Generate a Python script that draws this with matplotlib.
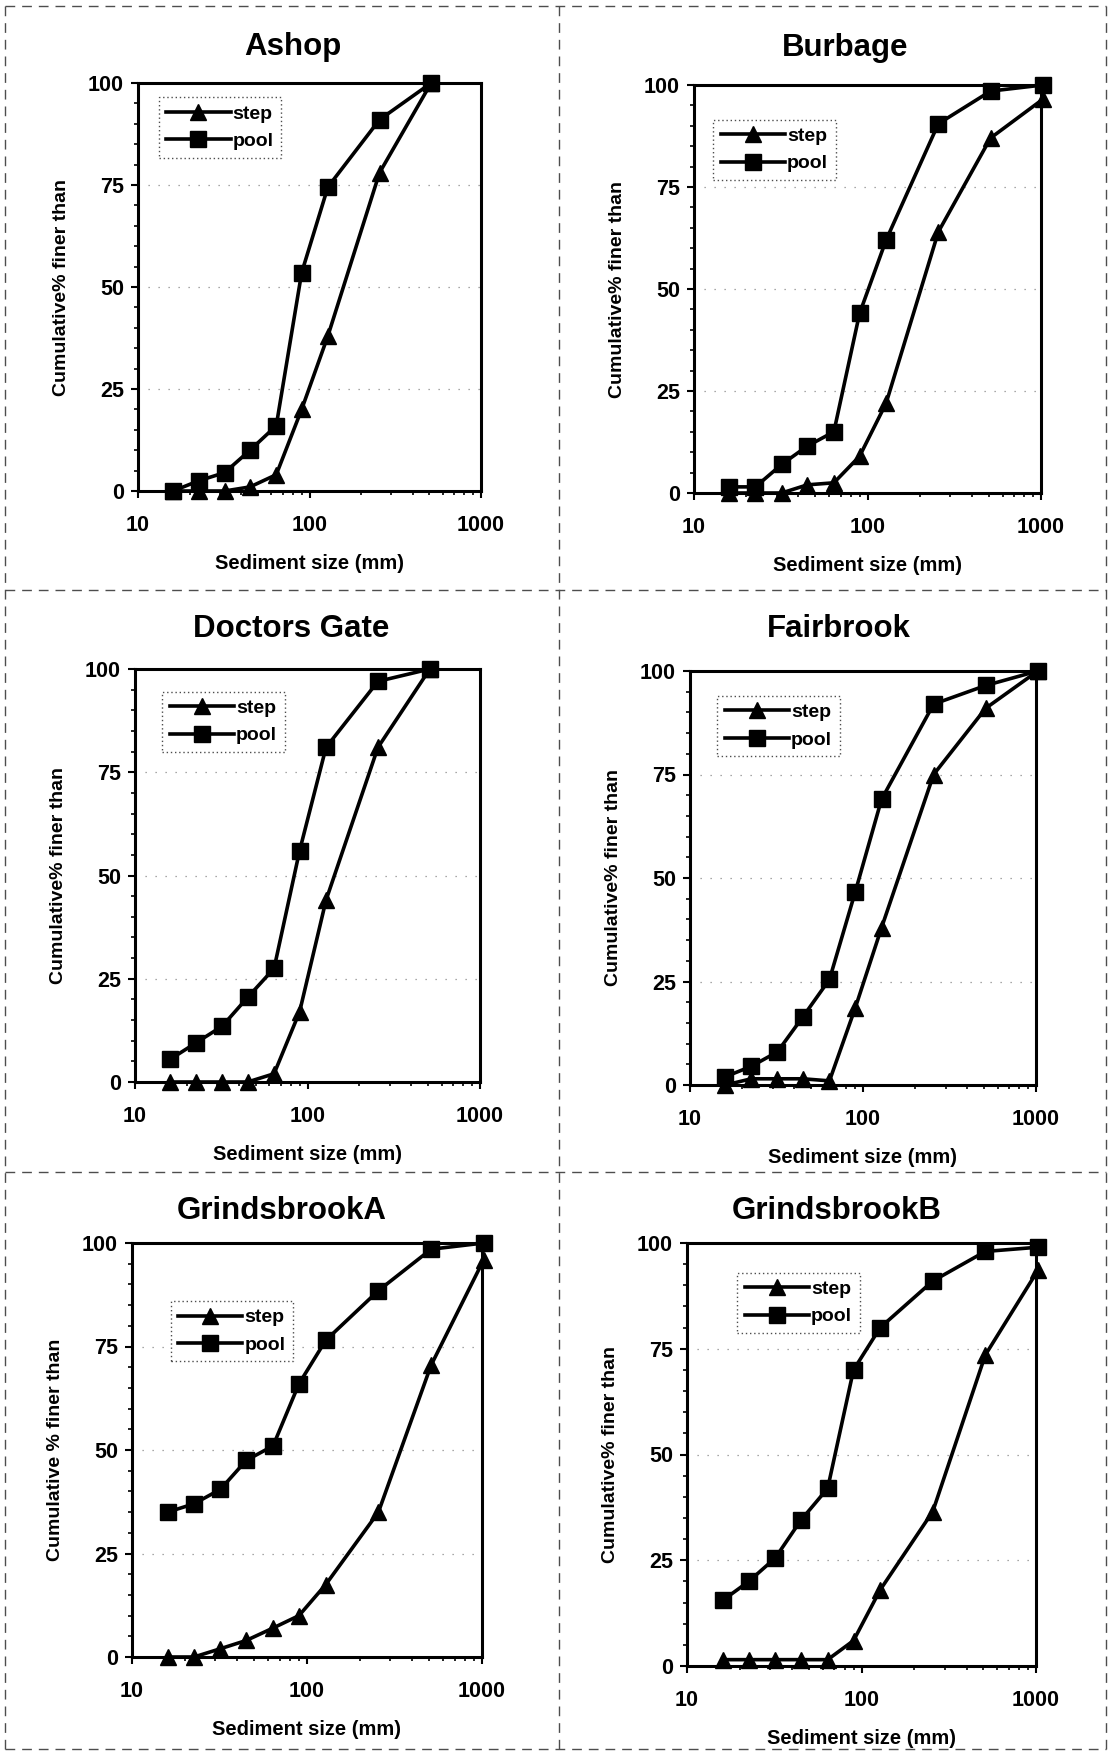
import matplotlib
matplotlib.use("Agg")
import matplotlib.pyplot as plt
from matplotlib.lines import Line2D
from matplotlib.ticker import FixedLocator, NullFormatter

plt.rcParams['font.family'] = ['Liberation Sans', 'DejaVu Sans']
plt.rcParams['font.weight'] = 'bold'

# ---------------- data ----------------
sizes_mm = [16, 22.6, 32, 45, 64, 90, 128, 256, 512, 1024]

titles = ["Ashop", "Burbage", "Doctors Gate", "Fairbrook", "GrindsbrookA", "GrindsbrookB"]

ashop_step = [0, 0, 0, 1, 4, 20, 38, 78, 100]
ashop_pool = [0, 2.5, 4.5, 10, 16, 53.5, 74.5, 91, 100]

burbage_step = [0, 0, 0, 2, 2.5, 9, 22, 64, 87, 96.5]
burbage_pool = [1.5, 1.5, 7, 11.5, 15, 44, 62, 90.5, 98.5, 100]

doctors_step = [0, 0, 0, 0, 2, 17, 44, 81, 100]
doctors_pool = [5.5, 9.5, 13.5, 20.5, 27.5, 56, 81, 97, 100]

fairbrook_step = [0, 1.5, 1.5, 1.5, 1, 18.5, 38, 75, 91, 100]
fairbrook_pool = [2, 4.5, 8, 16.5, 25.5, 46.5, 69, 92, 96.5, 100]

grindsA_step = [0, 0, 2, 4, 7, 10, 17.5, 35, 70.5, 96]
grindsA_pool = [35, 37, 40.5, 47.5, 51, 66, 76.5, 88.5, 98.5, 100]

grindsB_step = [1.5, 1.5, 1.5, 1.5, 1.5, 6, 18, 36.5, 73.5, 93.5]
grindsB_pool = [15.5, 20, 25.5, 34.5, 42, 70, 80, 91, 98, 99]

step_series = [ashop_step, burbage_step, doctors_step, fairbrook_step, grindsA_step, grindsB_step]
pool_series = [ashop_pool, burbage_pool, doctors_pool, fairbrook_pool, grindsA_pool, grindsB_pool]

y_ticks = [0, 25, 50, 75, 100]
x_ticks = [10, 100, 1000]
x_tick_labels = ["10", "100", "1000"]

# ---------------- layout (pixels) ----------------
W, H = 1111, 1755
fig = plt.figure(figsize=(W / 100, H / 100), dpi=100)
fig.patch.set_facecolor("white")

boxes = [
    (138, 481, 83, 491),
    (694, 1041, 85, 493),
    (135, 480, 669, 1082),
    (690, 1036, 671, 1085),
    (132, 482, 1243, 1657),
    (687, 1036, 1243, 1666),
]
title_pos = [(293, 47), (845, 48), (291, 629), (839, 629), (282, 1211), (837, 1211)]
legend_anchor = [(0.06, 0.965), (0.055, 0.915), (0.078, 0.945), (0.078, 0.94), (0.11, 0.86), (0.143, 0.93)]
ylabels = ["Cumulative% finer than", "Cumulative% finer than", "Cumulative% finer than",
           "Cumulative% finer than", "Cumulative % finer than", "Cumulative% finer than"]

for i in range(6):
    l, r, t, b = boxes[i]
    ax = fig.add_axes([l / W, 1 - b / H, (r - l) / W, (b - t) / H])
    n = len(step_series[i])
    xs = sizes_mm[:n]
    ax.plot(xs, step_series[i], color="black", lw=2.6, marker="^", markersize=11.5,
            clip_on=False, zorder=4, label="step")
    ax.plot(xs, pool_series[i], color="black", lw=2.6, marker="s", markersize=12,
            clip_on=False, zorder=5, label="pool")
    ax.set_xscale("log")
    ax.set_xlim(10, 1000)
    ax.set_ylim(0, 100)
    ax.set_xticks(x_ticks)
    ax.set_xticklabels(x_tick_labels)
    ax.xaxis.set_minor_formatter(NullFormatter())
    ax.set_yticks(y_ticks)
    ax.yaxis.set_minor_locator(FixedLocator([v for v in range(0, 101, 5) if v % 25]))
    ax.tick_params(axis="both", which="major", labelsize=15.5, length=5, width=1.5, direction="out")
    ax.tick_params(axis="x", which="major", pad=12)
    ax.tick_params(axis="y", which="major", pad=5)
    ax.tick_params(axis="both", which="minor", length=3, width=1.2, direction="out")
    for lab in ax.get_xticklabels() + ax.get_yticklabels():
        lab.set_fontweight("bold")
    for sp in ax.spines.values():
        sp.set_linewidth(2.2)
        sp.set_color("black")
    ax.grid(axis="y", which="major", color="0.55", linestyle=(0, (1, 7)), linewidth=0.9)
    ax.set_axisbelow(True)
    ax.set_xlabel("Sediment size (mm)", fontsize=14.5, fontweight="bold", labelpad=13)
    ax.set_ylabel(ylabels[i], fontsize=14, fontweight="bold", labelpad=13)
    leg = ax.legend(loc="upper left", bbox_to_anchor=legend_anchor[i], borderaxespad=0,
                    fontsize=14, handlelength=3.3, handletextpad=0.1, labelspacing=0.5,
                    borderpad=0.4, fancybox=False, framealpha=1)
    frame = leg.get_frame()
    frame.set_edgecolor("0.3")
    frame.set_linestyle((0, (1, 2)))
    frame.set_linewidth(1.0)
    for txt in leg.get_texts():
        txt.set_fontweight("bold")
    fig.text(title_pos[i][0] / W, 1 - title_pos[i][1] / H, titles[i], ha="center", va="center",
             fontsize=22.5, fontweight="bold")

# dashed panel separators
dash = dict(color="0.3", linestyle=(0, (7, 5)), linewidth=1.0)
for yy in [6, 590, 1172, 1749]:
    fig.add_artist(Line2D([5 / W, 1106 / W], [1 - yy / H, 1 - yy / H], transform=fig.transFigure, **dash))
for xx in [5, 559, 1106]:
    fig.add_artist(Line2D([xx / W, xx / W], [1 - 6 / H, 1 - 1749 / H], transform=fig.transFigure, **dash))

fig.savefig("out.png", dpi=100, facecolor="white")
